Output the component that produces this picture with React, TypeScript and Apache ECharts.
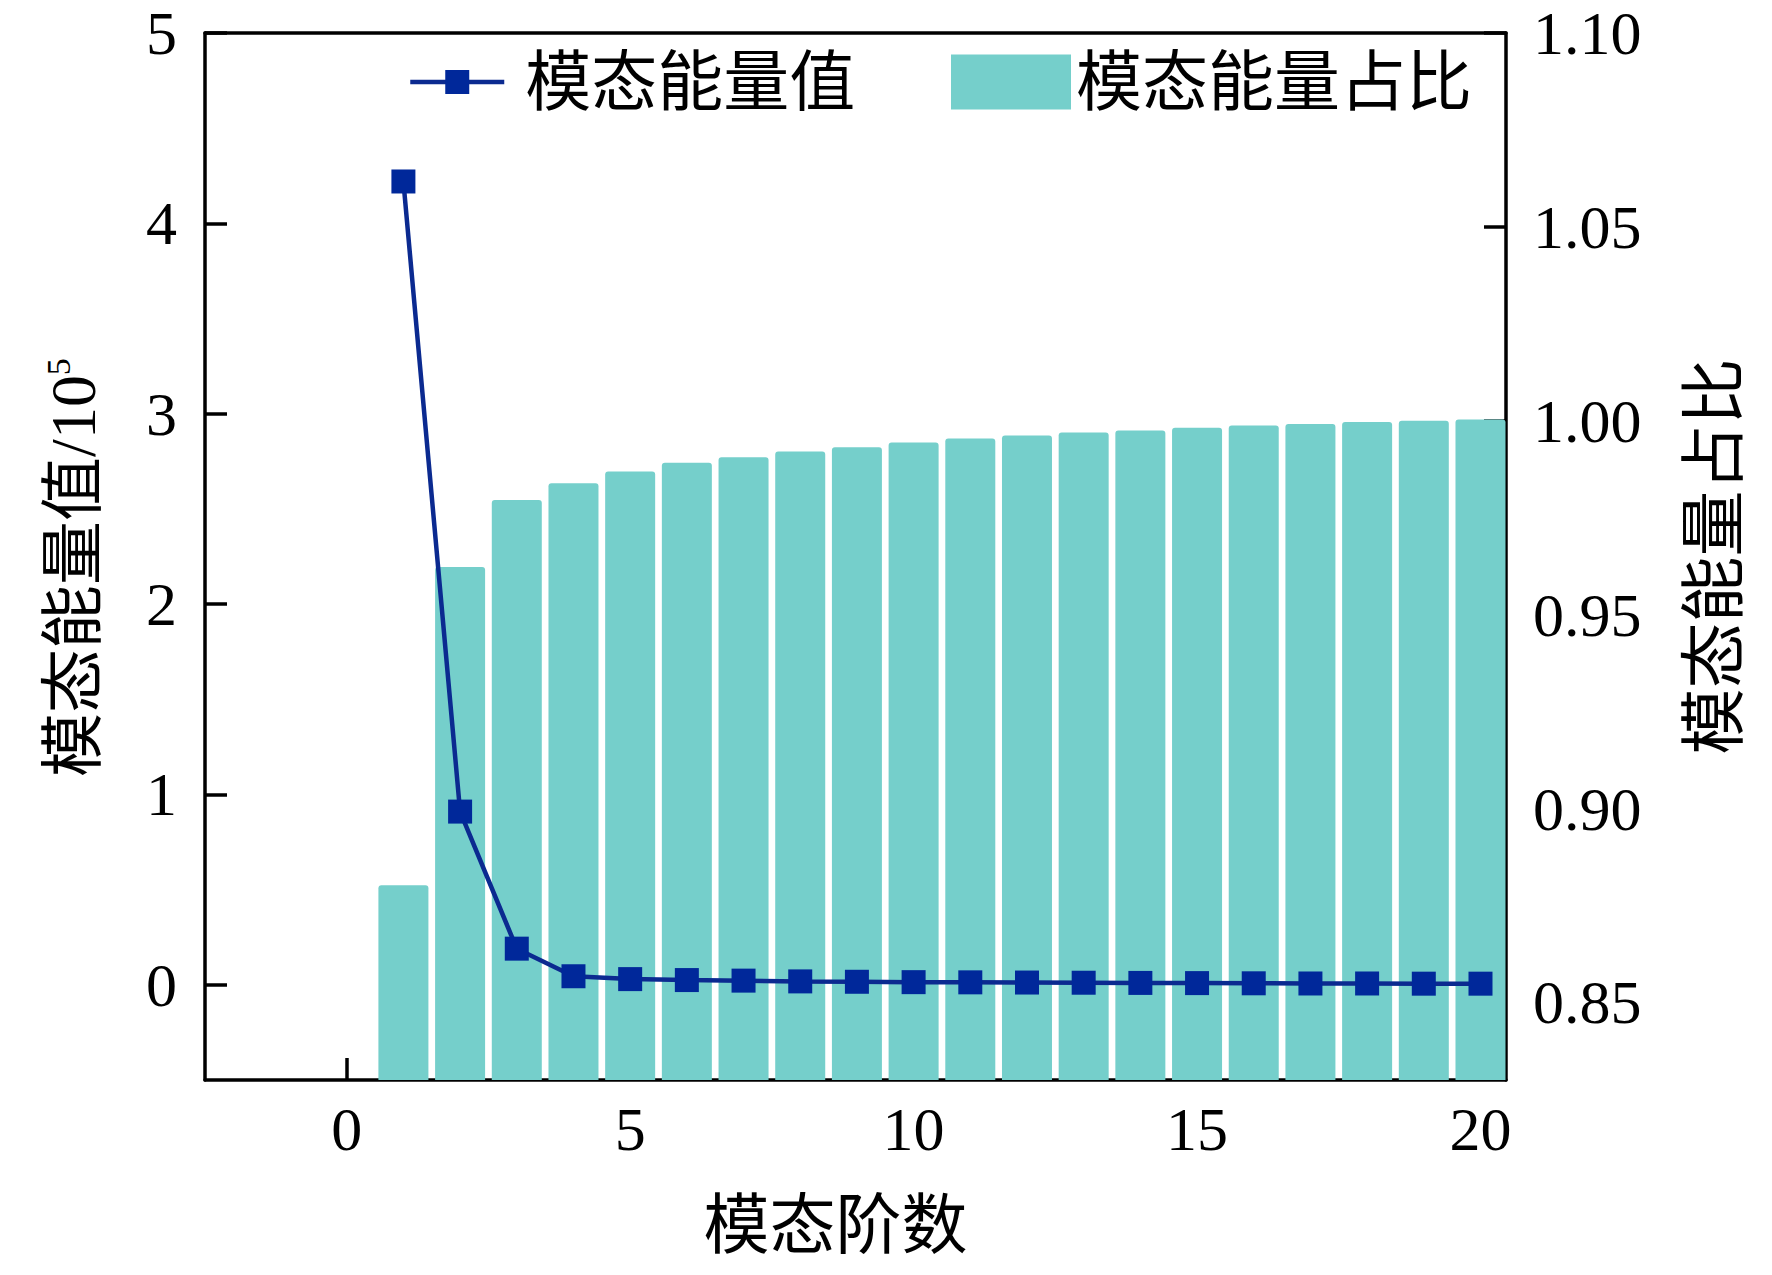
import React, { useEffect, useRef } from "react";
import * as echarts from "echarts";

const modeOrders = [1, 2, 3, 4, 5, 6, 7, 8, 9, 10, 11, 12, 13, 14, 15, 16, 17, 18, 19, 20];
const energyValues = [4.22, 0.91, 0.19, 0.045, 0.03, 0.025, 0.022, 0.018, 0.016, 0.014, 0.013, 0.012, 0.011, 0.01, 0.009, 0.008, 0.007, 0.007, 0.006, 0.006];
const energyRatios = [0.8802, 0.9623, 0.9796, 0.9839, 0.9869, 0.9892, 0.9906, 0.9921, 0.9932, 0.9944, 0.9954, 0.9962, 0.997, 0.9975, 0.9982, 0.9988, 0.9992, 0.9997, 1.0, 1.0003];
const xTicks = [0, 5, 10, 15, 20];
const leftTicks = [0, 1, 2, 3, 4, 5];
const rightTicks = [0.85, 0.9, 0.95, 1.0, 1.05, 1.1];

const SERIF = "'Liberation Serif', 'Times New Roman', 'Noto Sans CJK SC', serif";
const BAR_COLOR = "#75CFCB";
const LINE_COLOR = "#0B2A90";
const MARK_COLOR = "#00289A";

export default function App() {
  const ref = useRef<HTMLDivElement>(null);
  useEffect(() => {
    if (!ref.current) return;
    const chart = echarts.init(ref.current, null, { renderer: "svg" });
    const axisLine = { show: true, onZero: false, lineStyle: { color: "#000", width: 3.5 } };
    const tickStyle = { color: "#000", width: 3.5 };
    const labelBase = { color: "#000", fontSize: 62, fontFamily: SERIF };
    chart.setOption({
      animation: false,
      backgroundColor: "#fff",
      grid: { left: 205, right: 266, top: 33, bottom: 195, containLabel: false },
      legend: [
        {
          data: ["模态能量值"],
          left: 403,
          top: 44,
          itemWidth: 94,
          itemHeight: 30,
          lineStyle: { width: 4.5 },
          textStyle: { fontSize: 66, fontFamily: SERIF, color: "#000", padding: [0, 0, 0, 16] },
        },
        {
          data: [{ name: "模态能量占比", icon: "rect" }],
          left: 946,
          top: 44,
          itemWidth: 120,
          itemHeight: 55,
          textStyle: { fontSize: 66, fontFamily: SERIF, color: "#000" },
        },
      ],
      xAxis: [
        {
          type: "value",
          position: "bottom",
          min: -2.5,
          max: 20.45,
          axisLine,
          splitLine: { show: false },
          axisTick: { show: true, inside: true, length: 22, lineStyle: tickStyle, customValues: xTicks },
          axisLabel: { ...labelBase, margin: 18, customValues: xTicks },
          name: "模态阶数",
          nameLocation: "middle",
          nameGap: 112,
          nameTextStyle: { fontSize: 66, fontFamily: SERIF, color: "#000", padding: [0, 40, 0, 0] },
        },
        {
          type: "value",
          position: "top",
          min: -2.5,
          max: 20.45,
          axisLine,
          splitLine: { show: false },
          axisTick: { show: false },
          axisLabel: { show: false },
        },
      ],
      yAxis: [
        {
          type: "value",
          position: "left",
          min: -0.5,
          max: 5,
          axisLine,
          splitLine: { show: false },
          axisTick: { show: true, inside: true, length: 22, lineStyle: tickStyle, customValues: leftTicks },
          axisLabel: { ...labelBase, margin: 28, customValues: leftTicks },
          name: "{a|模态能量值/10}{s|5}",
          nameLocation: "middle",
          nameRotate: 90,
          nameGap: 100,
          nameTextStyle: {
            fontSize: 64,
            fontFamily: SERIF,
            color: "#000",
            padding: [0, 22, 0, 0],
            rich: {
              a: { fontSize: 64, fontFamily: SERIF, color: "#000" },
              s: { fontSize: 34, fontFamily: SERIF, color: "#000", verticalAlign: "top" },
            },
          },
        },
        {
          type: "value",
          position: "right",
          min: 0.83,
          max: 1.1,
          axisLine,
          splitLine: { show: false },
          axisTick: { show: true, inside: true, length: 22, lineStyle: tickStyle, customValues: rightTicks },
          axisLabel: {
            ...labelBase,
            margin: 27,
            customValues: rightTicks,
            formatter: (v: number) => v.toFixed(2),
          },
          name: "模态能量占比",
          nameLocation: "middle",
          nameRotate: 90,
          nameGap: 175,
          nameTextStyle: { fontSize: 66, fontFamily: SERIF, color: "#000" },
        },
      ],
      series: [
        {
          name: "模态能量占比",
          type: "bar",
          xAxisIndex: 0,
          yAxisIndex: 1,
          barWidth: 50,
          clip: true,
          itemStyle: { color: BAR_COLOR, borderRadius: [3, 3, 0, 0] },
          data: modeOrders.map((x, i) => [x, energyRatios[i]]),
          z: 1,
        },
        {
          name: "模态能量值",
          type: "line",
          xAxisIndex: 0,
          yAxisIndex: 0,
          symbol: "rect",
          symbolSize: 24,
          lineStyle: { color: LINE_COLOR, width: 4.5 },
          itemStyle: { color: MARK_COLOR },
          data: modeOrders.map((x, i) => [x, energyValues[i]]),
          z: 3,
        },
      ],
    });
    return () => chart.dispose();
  }, []);
  return (
    <div
      ref={ref}
      style={{ position: "fixed", left: 0, top: 0, width: 1772, height: 1275, background: "#fff" }}
    />
  );
}
